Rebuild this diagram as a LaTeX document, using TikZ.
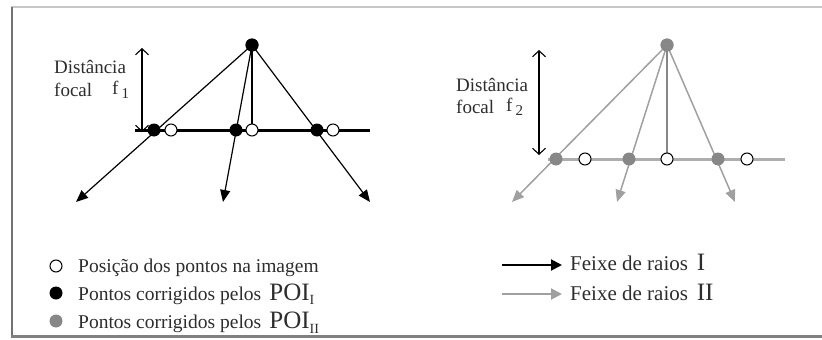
\documentclass[tikz,border=0pt]{standalone}
\usepackage{fontspec}
\setmainfont{Liberation Serif}
\usetikzlibrary{arrows.meta}
\definecolor{grdot}{RGB}{135,135,135}
\definecolor{grline}{RGB}{160,160,160}
\definecolor{txt}{RGB}{45,45,45}
\begin{document}
\begin{tikzpicture}[x=1pt,y=-1pt,
  blackdot/.style={circle,fill=black,inner sep=0pt,minimum size=13pt},
  graydot/.style={circle,fill=grdot,inner sep=0pt,minimum size=13pt},
  whitedot/.style={circle,draw=black,fill=white,line width=1pt,inner sep=0pt,minimum size=12pt},
  rayI/.style={black,line width=1.2pt,-{Triangle[length=12pt,width=10pt]}},
  rayII/.style={grline,line width=1.5pt,-{Triangle[length=12pt,width=10pt]}},
  focalarrow/.style={black,line width=1.1pt,{Straight Barb[length=6pt,width=13pt]}-{Straight Barb[length=6pt,width=13pt]}},
  lbl/.style={inner sep=0pt,text=txt,font=\fontsize{19}{21}\selectfont},
  legend/.style={inner sep=0pt,anchor=base west,text=txt,font=\fontsize{19.5}{21}\selectfont},
  legendR/.style={inner sep=0pt,anchor=base west,text=txt,font=\fontsize{21}{23}\selectfont},
]
\useasboundingbox (0,0) rectangle (822,340);
% frame shadow
\draw[black!22,line width=1.5pt] (11,7) -- (822,7);
\draw[black!55,line width=2pt] (11.5,7) -- (11.5,336);
\draw[black!50,line width=3pt] (11,336.5) -- (822,336.5);

% ---------- left diagram (I) ----------
\coordinate (LtA) at (76,202);
\coordinate (LtB) at (223,202);
\coordinate (LtC) at (370,202);
\coordinate (LlineL) at (135,130);
\coordinate (LlineR) at (370,130);
\coordinate (LbaseV) at (252,130);
\node[blackdot] (Ltop) at (252,45) {};
\draw[rayI] (Ltop.center) -- (LtA);
\draw[rayI] (Ltop.center) -- (LtB);
\draw[rayI] (Ltop.center) -- (LtC);
\draw[black,line width=3pt] (LlineL) -- (LlineR);
\draw[black,line width=2.6pt] (Ltop.center) -- (LbaseV);
\node[blackdot] (Lb1) at (154,130) {};
\node[blackdot] (Lb2) at (236,130) {};
\node[blackdot] (Lb3) at (317,130) {};
\node[whitedot] (Lw1) at (171,130) {};
\node[whitedot] (Lw2) at (252,130) {};
\node[whitedot] (Lw3) at (333,130) {};
\node[blackdot] at (Ltop) {};
\coordinate (LfT) at (142,48);
\coordinate (LfB) at (142,132);
\draw[focalarrow] (LfT) -- (LfB);
\node[lbl,anchor=west] (Ldist) at (54,67) {Distância};
\node[lbl,anchor=west] (Lfocal) at (54,90) {focal};
\node[lbl,anchor=west] (Lf) at (112,90) {f\,\raisebox{-4pt}{\fontsize{15}{15}\selectfont 1}};

% ---------- right diagram (II) ----------
\coordinate (RtA) at (512,202);
\coordinate (RtB) at (617,202);
\coordinate (RtC) at (735,202);
\coordinate (RlineL) at (548,159);
\coordinate (RlineR) at (785,159);
\coordinate (RbaseV) at (667,159);
\node[graydot] (Rtop) at (667,45) {};
\draw[rayII] (Rtop.center) -- (RtA);
\draw[rayII] (Rtop.center) -- (RtB);
\draw[rayII] (Rtop.center) -- (RtC);
\draw[grline!85,line width=3pt] (RlineL) -- (RlineR);
\draw[grdot,line width=2pt] (Rtop.center) -- (RbaseV);
\node[graydot] (Rg1) at (556,159) {};
\node[graydot] (Rg2) at (629,159) {};
\node[graydot] (Rg3) at (718,159) {};
\node[whitedot] (Rw1) at (585,159) {};
\node[whitedot] (Rw2) at (667,159) {};
\node[whitedot] (Rw3) at (747,159) {};
\node[graydot] at (Rtop) {};
\coordinate (RfT) at (539,50);
\coordinate (RfB) at (539,155);
\draw[focalarrow] (RfT) -- (RfB);
\node[lbl,anchor=west] (Rdist) at (456,85) {Distância};
\node[lbl,anchor=west] (Rfocal) at (456,107) {focal};
\node[lbl,anchor=west] (Rf) at (506,107) {f\,\raisebox{-4pt}{\fontsize{15}{15}\selectfont 2}};

% ---------- legend left ----------
\node[whitedot] (K1) at (56,266) {};
\node[blackdot] (K2) at (56,293) {};
\node[graydot] (K3) at (56,321) {};
\node[legend] (T1) at (78,272) {Posição dos pontos na imagem};
\node[legend] (T2) at (78,300) {Pontos corrigidos pelos \,{\fontsize{25}{25}\selectfont POI}\raisebox{-4pt}{\fontsize{14}{14}\selectfont I}};
\node[legend] (T3) at (78,328) {Pontos corrigidos pelos \,{\fontsize{25}{25}\selectfont POI}\raisebox{-5pt}{\fontsize{14}{14}\selectfont II}};

% ---------- legend right ----------
\coordinate (A1s) at (502,265);
\coordinate (A1e) at (562,265);
\coordinate (A2s) at (502,294);
\coordinate (A2e) at (562,294);
\draw[black,line width=2pt,-{Triangle[length=11pt,width=11pt]}] (A1s) -- (A1e);
\draw[grline,line width=2pt,-{Triangle[length=11pt,width=11pt]}] (A2s) -- (A2e);
\node[legendR] (F1) at (570,270) {Feixe de raios \,{\fontsize{25}{25}\selectfont I}};
\node[legendR] (F2) at (570,300) {Feixe de raios \,{\fontsize{25}{25}\selectfont II}};
\end{tikzpicture}
\end{document}
